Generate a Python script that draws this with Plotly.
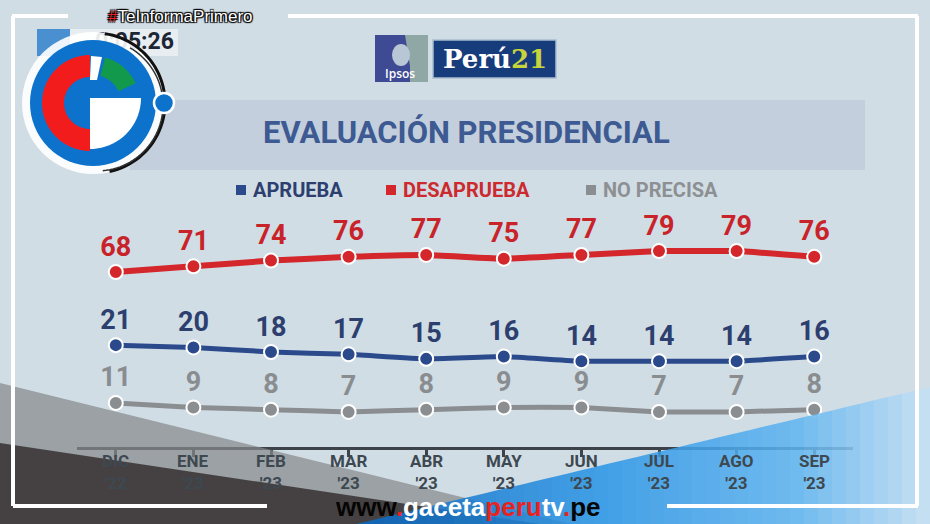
import numpy as np
import plotly.graph_objects as go

# ---------------- data ----------------
months = ["DIC", "ENE", "FEB", "MAR", "ABR", "MAY", "JUN", "JUL", "AGO", "SEP"]
years = ["'22", "'23", "'23", "'23", "'23", "'23", "'23", "'23", "'23", "'23"]
aprueba = [21, 20, 18, 17, 15, 16, 14, 14, 14, 16]
desaprueba = [68, 71, 74, 76, 77, 75, 77, 79, 79, 76]
no_precisa = [11, 9, 8, 7, 8, 9, 9, 7, 7, 8]
series_names = ["APRUEBA", "DESAPRUEBA", "NO PRECISA"]
clock_text = "0:05:26"

W, H = 930, 524
RED, BLUE, GRAY = "#d3272b", "#2b4a8c", "#8b8e91"
RED_T, BLUE_T, GRAY_T = "#c9232a", "#2c3f6f", "#8a8d90"
BG = "#d1dde5"
AXC = "#3c4247"


def X(px):
    return px / W


def Y(py):
    return 1 - py / H


def P(px, py):
    return f"{X(px):.5f},{Y(py):.5f}"


def poly(pts):
    return "M " + " L ".join(P(a, b) for a, b in pts) + " Z"


def arc_pts(cx, cy, r, a0, a1, n=48):
    a = np.radians(np.linspace(a0, a1, n))
    return [(cx + r * np.cos(t), cy - r * np.sin(t)) for t in a]


def annulus(cx, cy, r0, r1, a0, a1):
    return poly(arc_pts(cx, cy, r1, a0, a1) + arc_pts(cx, cy, r0, a1, a0))


xs = list(range(len(months)))

fig = go.Figure()


def add_series(vals, color, tcolor, name, yax, lw):
    fig.add_trace(go.Scatter(
        x=xs, y=vals, name=name, yaxis=yax, mode="lines+markers+text",
        line=dict(color=color, width=lw, shape="spline", smoothing=0.3),
        marker=dict(size=14, color=color, line=dict(color="white", width=2)),
        text=[str(v) for v in vals], textposition="top center",
        textfont=dict(family="Roboto", size=27, color=tcolor, weight=700),
        cliponaxis=False, showlegend=False, hoverinfo="skip"))


add_series(no_precisa, GRAY, GRAY_T, series_names[2], "y3", 5)
add_series(aprueba, BLUE, BLUE_T, series_names[0], "y2", 5)
add_series(desaprueba, RED, RED_T, series_names[1], "y", 6)

# clock text on a full-figure pixel frame so the logo (shapes above) can cover it
fig.add_trace(go.Scatter(x=[174], y=[43], xaxis="x2", yaxis="y4", mode="text",
                         text=[clock_text], textposition="middle left",
                         textfont=dict(family="Roboto", size=23, color="#1d2635", weight=700),
                         cliponaxis=False, showlegend=False, hoverinfo="skip"))

ydom = [Y(447), Y(200)]
fig.update_layout(
    width=W, height=H, autosize=False,
    margin=dict(l=0, r=0, t=0, b=0, pad=0),
    paper_bgcolor=BG, plot_bgcolor="rgba(0,0,0,0)",
    xaxis=dict(domain=[X(77), X(853)], range=[-0.5, 9.5], tickmode="array",
               tickvals=xs, ticktext=months, tickson="boundaries", showticklabels=False,
               ticks="outside", ticklen=7, tickwidth=2.5, tickcolor=AXC,
               showline=True, linecolor=AXC, linewidth=3,
               showgrid=False, zeroline=False, fixedrange=True),
    yaxis=dict(domain=ydom, range=[-24.1, 105.9], visible=False, fixedrange=True),
    yaxis2=dict(range=[-23.5, 84.4], overlaying="y", visible=False, fixedrange=True),
    yaxis3=dict(range=[-8.6, 101.2], overlaying="y", visible=False, fixedrange=True),
    xaxis2=dict(domain=[0, 1], range=[0, W], anchor="y4", visible=False, fixedrange=True),
    yaxis4=dict(domain=[0, 1], range=[H, 0], anchor="x2", visible=False, fixedrange=True),
)

shapes = []
ann = []


def A(text, px, py, size, color, family="Roboto", weight=700, xanchor="center", **kw):
    d = dict(text=text, x=X(px), y=Y(py), xref="paper", yref="paper", showarrow=False,
             xanchor=xanchor, yanchor="middle",
             font=dict(family=family, size=size, color=color, weight=weight, **kw))
    ann.append(d)


# category labels (month + year) placed on the x axis scale
for i, (m, yv) in enumerate(zip(months, years)):
    ann.append(dict(text=f"{m}<br>{yv}", x=xs[i], xref="x", y=Y(472), yref="paper",
                    showarrow=False, xanchor="center", yanchor="middle",
                    font=dict(family="Roboto", size=17, color="#3d4850", weight=700)))

# title band
shapes.append(dict(type="rect", xref="paper", yref="paper", x0=X(130), x1=X(865),
                   y0=Y(170), y1=Y(100), fillcolor="#c3cfdc", line_width=0, layer="below"))
A("EVALUACIÓN PRESIDENCIAL", 466, 133, 31, "#3d5a92")

# legend
leg = [(236, series_names[0], BLUE, BLUE_T), (386, series_names[1], RED, "#cc2a2e"),
       (586, series_names[2], GRAY, "#8d9093")]
for x0, name, c, tc in leg:
    shapes.append(dict(type="rect", xref="paper", yref="paper", x0=X(x0), x1=X(x0 + 10),
                       y0=Y(195), y1=Y(185), fillcolor=c, line_width=0))
    A(name, x0 + 15, 190, 20, tc, xanchor="left")

# Ipsos logo
shapes.append(dict(type="rect", xref="paper", yref="paper", x0=X(375), x1=X(428),
                   y0=Y(82), y1=Y(35), fillcolor="#3e4a93", line_width=0))
shapes.append(dict(type="path", xref="paper", yref="paper",
                   path=poly([(405, 35), (428, 35), (428, 82), (410, 82), (410, 66)]),
                   fillcolor="#8fa8a6", line_width=0))
shapes.append(dict(type="circle", xref="paper", yref="paper", x0=X(392), x1=X(410),
                   y0=Y(66), y1=Y(44), fillcolor="#b9c6d6", line_width=0))
A("Ipsos", 400, 74, 12, "white", family="Open Sans", weight=600)
# Perú21 logo
shapes.append(dict(type="rect", xref="paper", yref="paper", x0=X(433), x1=X(556),
                   y0=Y(78), y1=Y(40), fillcolor="#173c7b", line=dict(color="#a8bcd0", width=1.5)))
A("<span style='color:white'>Perú</span><span style='color:#c8d43c'>21</span>", 495, 59, 26,
  "white", family="DejaVu Serif")

# clock box
shapes.append(dict(type="rect", xref="paper", yref="paper", x0=X(37), x1=X(178), layer="below",
                   y0=Y(56), y1=Y(29), fillcolor="#e8edf1", line_width=0))
shapes.append(dict(type="rect", xref="paper", yref="paper", x0=X(37), x1=X(70), layer="below",
                   y0=Y(56), y1=Y(29), fillcolor="#4a90d0", line_width=0))

# bottom overlays (above traces)
shapes.append(dict(type="path", xref="paper", yref="paper", layer="above",
                   path=poly([(0, 383), (571, 524), (0, 524)]),
                   fillcolor="rgba(135,137,140,0.72)", line_width=0))
shapes.append(dict(type="path", xref="paper", yref="paper", layer="above",
                   path=poly([(0, 443), (540, 524), (0, 524)]),
                   fillcolor="rgba(64,60,60,0.95)", line_width=0))


def yline(x):
    return 524 + (x - 356) * (387 - 524) / (930 - 356)


stops = [(356, (10, 105, 195)), (600, (40, 148, 230)), (800, (95, 180, 240)), (930, (200, 225, 245))]


def col(x):
    for (xa, ca), (xb, cb) in zip(stops[:-1], stops[1:]):
        if xa <= x <= xb:
            t = (x - xa) / (xb - xa)
            return tuple(int(round(ca[i] + t * (cb[i] - ca[i]))) for i in range(3))
    return stops[-1][1]


bx = list(range(356, 931, 14))
if bx[-1] != 930:
    bx.append(930)
for xa, xb in zip(bx[:-1], bx[1:]):
    c = col((xa + xb) / 2)
    shapes.append(dict(type="path", xref="paper", yref="paper", layer="above",
                       path=poly([(xa, yline(xa)), (xb, yline(xb)), (xb, 524), (xa, 524)]),
                       fillcolor=f"rgba({c[0]},{c[1]},{c[2]},0.85)", line_width=0))

# white frame
for (x0, y0, x1, y1) in [(12, 16, 68, 16), (288, 16, 918, 16), (917, 16, 917, 506),
                         (667, 506, 918, 506), (13, 506, 267, 506), (13, 16, 13, 506)]:
    shapes.append(dict(type="line", xref="paper", yref="paper", layer="above",
                       x0=X(x0), y0=Y(y0), x1=X(x1), y1=Y(y1),
                       line=dict(color="white", width=4)))

# G logo (above the clock)
cx, cy = 93, 103
logo = []
logo.append(dict(type="circle", x0=X(cx - 71), x1=X(cx + 71),
                 y0=Y(cy + 71), y1=Y(cy - 71), fillcolor="rgba(255,255,255,0.9)", line_width=0))
logo.append(dict(type="path",
                 path="M " + " L ".join(P(a, b) for a, b in arc_pts(cx + 2, cy, 70, -78, 82)),
                 line=dict(color="#111", width=3)))
logo.append(dict(type="path",
                 path="M " + " L ".join(P(a, b) for a, b in arc_pts(cx + 4, cy + 2, 66, -85, 60)),
                 line=dict(color="#333", width=1.5)))
logo.append(dict(type="circle", x0=X(cx - 63), x1=X(cx + 63),
                 y0=Y(cy + 63), y1=Y(cy - 63), fillcolor="#0c72cc", line_width=0))
logo.append(dict(type="path", path=annulus(cx - 3, cy, 26, 48, 90, 270),
                 fillcolor="#f21c1c", line_width=0))
logo.append(dict(type="path", path=poly([(90, 98), (141, 98)] + arc_pts(90, 98, 51, -3, -90)),
                 fillcolor="white", line_width=0))
logo.append(dict(type="path", path=poly([(91, 56), (102, 57), (97, 80), (90, 80)]),
                 fillcolor="white", line_width=0))
logo.append(dict(type="path", path=annulus(cx, cy, 28, 47, 25, 75),
                 fillcolor="#13994b", line_width=0))
logo.append(dict(type="circle", x0=X(154), x1=X(174),
                 y0=Y(113), y1=Y(93), fillcolor="#0c72cc", line=dict(color="white", width=2.5)))
for s in logo:
    s.update(xref="paper", yref="paper", layer="above")
    shapes.append(s)

# hashtag
A("<span style='color:#e8231e'>#</span>TeInformaPrimero", 180, 16, 17, "white",
  family="Liberation Sans", weight=400,
  shadow="1px 1px 1px #000, -1px -1px 1px #000, 1px -1px 1px #000, -1px 1px 1px #000")

# website
A("www<span style='color:#e8231e'>.</span><span style='color:white'>gaceta</span>"
  "<span style='color:#e8231e'>peru</span><span style='color:white'>tv</span>"
  "<span style='color:#e8231e'>.</span>pe", 467, 507, 26, "#050505", family="Liberation Sans")

fig.update_layout(shapes=shapes, annotations=ann)
fig.write_html("out.html")
